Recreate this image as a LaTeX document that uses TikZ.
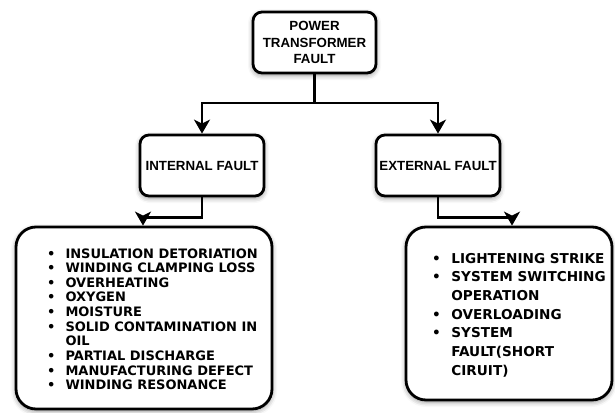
\documentclass[tikz,border=0pt]{standalone}
\usepackage{fontspec}
\setmainfont{Liberation Sans}
\newfontfamily\listfont{DejaVu Sans}
\usetikzlibrary{arrows.meta,shadows.blur}

\tikzset{
  box/.style={draw=black, line width=2.8pt, fill=white, rounded corners=#1,
    blur shadow={shadow xshift=0pt, shadow yshift=-2pt, shadow blur radius=5pt, shadow opacity=45},
    inner sep=0pt, align=center},
  box/.default=9pt,
  lbl/.style={font=\fontsize{13.3}{16.7}\selectfont\bfseries},
  conn/.style={draw=black, line width=2.8pt, -{Stealth[length=14pt,width=16pt,inset=4pt]}},
  listtext/.style={inner sep=0pt, anchor=base west}
}

\begin{document}
\begin{tikzpicture}[x=1pt,y=-1pt]
  \useasboundingbox (0,0) rectangle (615,412);

  % hierarchy boxes
  \node[box, lbl, minimum width=123pt, minimum height=61pt] (top) at (314.5,42.5)
    {POWER\\TRANSFORMER\\FAULT};
  \node[box, lbl, minimum width=124pt, minimum height=61pt] (int) at (202,165.5)
    {INTERNAL FAULT};
  \node[box, lbl, minimum width=124pt, minimum height=61pt] (ext) at (438,165.5)
    {EXTERNAL FAULT};

  % cause list boxes
  \node[box=20pt, minimum width=256pt, minimum height=182pt] (lbox) at (144,318) {};
  \node[box=20pt, minimum width=206pt, minimum height=173pt] (rbox) at (509,313.5) {};

  \node[listtext] (lcauses) at (47,258) {\listfont\bfseries\fontsize{13}{14.65}\selectfont
    \begin{tabular}[t]{@{}c@{\hspace{10pt}}l@{}}
      \textbullet & INSULATION DETORIATION\\
      \textbullet & WINDING CLAMPING LOSS\\
      \textbullet & OVERHEATING\\
      \textbullet & OXYGEN\\
      \textbullet & MOISTURE\\
      \textbullet & SOLID CONTAMINATION IN\\
                  & OIL\\
      \textbullet & PARTIAL DISCHARGE\\
      \textbullet & MANUFACTURING DEFECT\\
      \textbullet & WINDING RESONANCE
    \end{tabular}};

  \node[listtext] (rcauses) at (432,263) {\listfont\bfseries\fontsize{13.6}{18.7}\selectfont
    \begin{tabular}[t]{@{}c@{\hspace{10.5pt}}l@{}}
      \textbullet & LIGHTENING STRIKE\\
      \textbullet & SYSTEM SWITCHING\\
                  & OPERATION\\
      \textbullet & OVERLOADING\\
      \textbullet & SYSTEM\\
                  & FAULT(SHORT\\
                  & CIRUIT)
    \end{tabular}};

  % connectors
  \coordinate (bus) at (314.5,103);
  \draw[line width=2.8pt] (top.south) -- (bus);
  \draw[conn] (bus) -| (int.north);
  \draw[conn] (bus) -| (ext.north);
  \draw[conn] (int.south) -- ++(0,20) -| ([xshift=-1pt]lbox.north);
  \draw[conn] (ext.south) -- ++(0,20) -| ([xshift=3pt]rbox.north);
\end{tikzpicture}
\end{document}
